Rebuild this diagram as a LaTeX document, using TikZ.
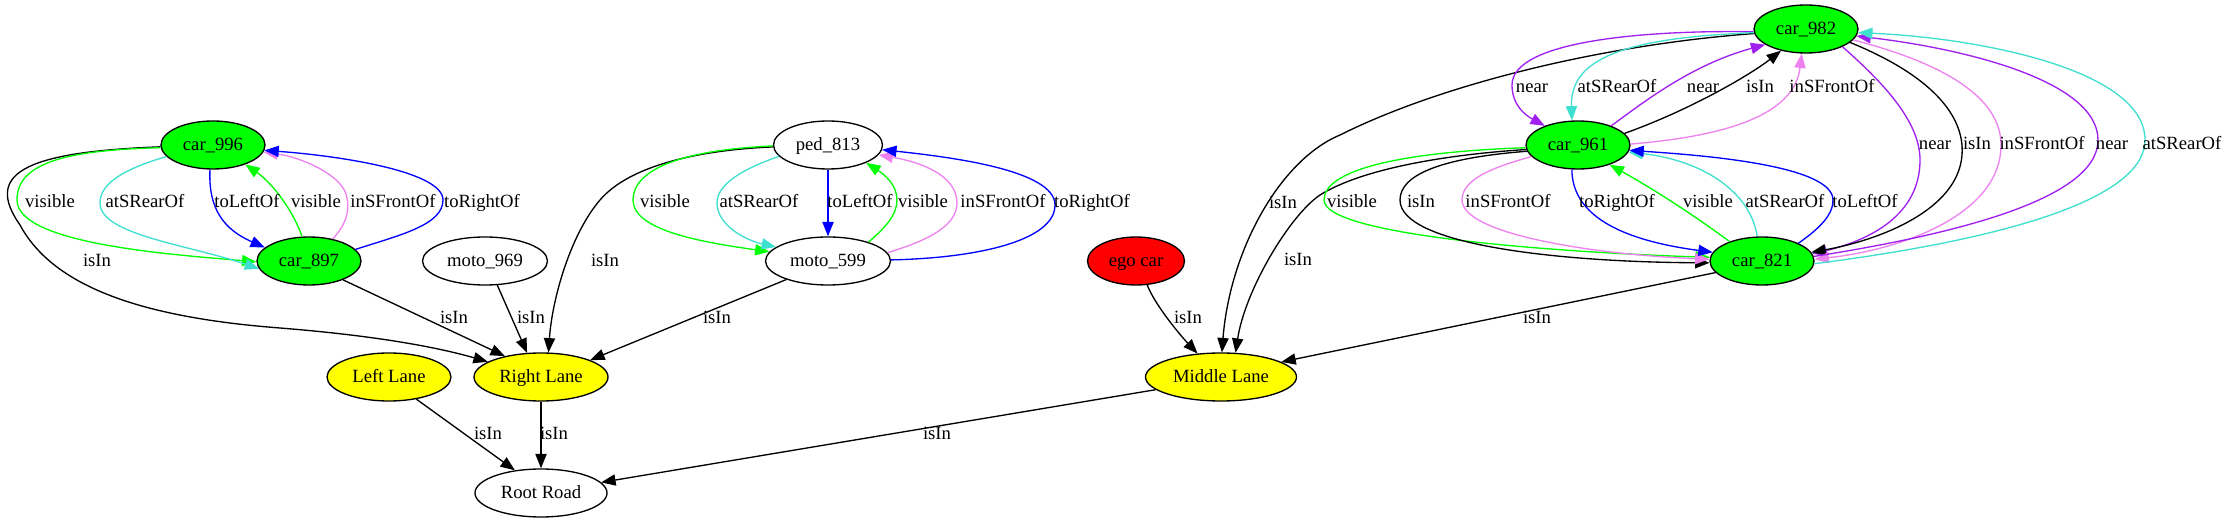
\documentclass[tikz,border=0pt]{standalone}
\usepackage{fontspec}
\setmainfont{Liberation Serif}
\usetikzlibrary{shapes.geometric,arrows.meta}
\definecolor{gvgreen}{HTML}{00FF00}
\definecolor{gvturq}{HTML}{40E0D0}
\definecolor{gvviolet}{HTML}{EE82EE}
\definecolor{gvpurple}{HTML}{A020F0}
\definecolor{gvblue}{HTML}{0000FF}
\definecolor{gvyellow}{HTML}{FFFF00}
\definecolor{gvred}{HTML}{FF0000}
\begin{document}
\begin{tikzpicture}[x=0.75pt,y=-0.75pt,
  gvnode/.style={ellipse,draw=black,line width=1pt,inner sep=0pt,minimum height=36pt,
    font=\fontsize{14}{16}\selectfont,text height=8pt,text depth=0pt},
  carnode/.style={gvnode,fill=gvgreen,minimum width=78pt},
  whitenode/.style={gvnode,fill=white},
  lanenode/.style={gvnode,fill=gvyellow},
  lbl/.style={inner sep=0pt,font=\fontsize{14}{16}\selectfont,text height=9pt,text depth=0pt},
  edg/.style={line width=1pt,line join=miter,-{Triangle[length=10.8pt,width=8.4pt]}},
]
\useasboundingbox (0,0) rectangle (2227,523);
\fill[white] (0,0) rectangle (2227,523);

% nodes
\node[carnode] (car996) at (213,145) {car\_996};
\node[carnode] (car897) at (309,261) {car\_897};
\node[whitenode,minimum width=93.75pt] (moto969) at (485,261) {moto\_969};
\node[whitenode,minimum width=81.75pt] (ped813) at (828,145) {ped\_813};
\node[whitenode,minimum width=93.75pt] (moto599) at (828,261) {moto\_599};
\node[lanenode,minimum width=93pt] (leftlane) at (389,377) {Left Lane};
\node[lanenode,minimum width=100.5pt] (rightlane) at (541,377) {Right Lane};
\node[whitenode,minimum width=99pt] (rootroad) at (541,493) {Root Road};
\node[gvnode,fill=gvred,minimum width=72.75pt] (egocar) at (1136,261) {ego car};
\node[lanenode,minimum width=113.25pt] (middlelane) at (1221,377) {Middle Lane};
\node[carnode] (car982) at (1806,29) {car\_982};
\node[carnode] (car961) at (1578,145) {car\_961};
\node[carnode] (car821) at (1762,261) {car\_821};

% left group
\draw[edg] (car996.182) .. controls (20,152) and (-15,175) .. (20,225) .. controls (55,290) and (150,318) .. (280,328) .. controls (380,336) and (440,348) .. (rightlane.164.5);
\draw[edg,gvgreen] (car996.183) .. controls (60,150) and (17,165) .. (17,200) .. controls (17,245) and (180,255) .. (car897.181);
\draw[edg,gvturq] (car996.194.6) .. controls (120,170) and (100,185) .. (100,203) .. controls (100,235) and (190,245) .. (car897.189);
\draw[edg,gvblue] (car996.263) .. controls (208,210) and (225,230) .. (car897.163.5);
\draw[edg,gvgreen] (car897.106) .. controls (295,215) and (275,185) .. (car996.329.5);
\draw[edg,gvviolet] (car897.43.8) .. controls (345,226) and (350,212) .. (347,198) .. controls (344,175) and (300,157) .. (car996.352);
\draw[edg,gvblue] (car897.14.6) .. controls (400,235) and (443,225) .. (443,200) .. controls (443,170) and (330,155) .. (car996.354.5);
\draw[edg] (car897.331) -- (rightlane.150.4);
\draw[edg] (moto969.297) -- (rightlane.120.8);
\draw[edg] (ped813.182) .. controls (700,150) and (630,165) .. (600,200) .. controls (570,235) and (552,300) .. (rightlane.73.4);
\draw[edg,gvgreen] (ped813.181) .. controls (680,150) and (633,170) .. (633,200) .. controls (633,230) and (700,242) .. (moto599.171.5);
\draw[edg,gvturq] (ped813.193.5) .. controls (740,170) and (717,185) .. (717,203) .. controls (717,225) and (745,240) .. (moto599.165.7);
\draw[edg,gvblue] (ped813.south) -- (moto599.north);
\draw[edg,gvgreen] (moto599.25.4) .. controls (885,228) and (897,215) .. (897,200) .. controls (897,185) and (885,175) .. (ped813.335);
\draw[edg,gvviolet] (moto599.8.5) .. controls (930,240) and (957,225) .. (957,203) .. controls (957,175) and (920,162) .. (ped813.349);
\draw[edg,gvblue] (moto599.1) .. controls (980,258) and (1055,240) .. (1055,205) .. controls (1055,170) and (950,157) .. (ped813.355);
\draw[edg] (moto599.204.3) -- (rightlane.19);
\draw[edg] (leftlane.321.2) -- (rootroad.139.8);
\draw[edg] (rightlane.south) -- (rootroad.north);
\draw[edg] (middlelane.191) -- (rootroad.10.6);
\draw[edg] (egocar.295) .. controls (1155,305) and (1180,335) .. (middlelane.135);

% right group to middle lane
\draw[edg] (car982.185) .. controls (1600,45) and (1440,85) .. (1340,135) .. controls (1280,160) and (1230,250) .. (middlelane.88);
\draw[edg] (car961.185) .. controls (1440,155) and (1360,170) .. (1320,195) .. controls (1290,215) and (1245,290) .. (middlelane.59.7);
\draw[edg] (car821.194) -- (middlelane.14.2);

% car982 <-> car961
\draw[edg,gvpurple] (car982.183) .. controls (1650,30) and (1512,40) .. (1512,85) .. controls (1512,105) and (1525,115) .. (car961.150);
\draw[edg,gvturq] (car982.184) .. controls (1620,38) and (1570,60) .. (car961.104);
\draw[edg,gvpurple] (car961.30.7) .. controls (1640,105) and (1690,65) .. (car982.201);
\draw[edg] (car961.14.3) .. controls (1690,110) and (1750,75) .. (car982.221);
\draw[edg,gvviolet] (car961.1) .. controls (1740,135) and (1795,110) .. (car982.260.5);

% car961 <-> car821
\draw[edg,gvgreen] (car961.183) .. controls (1400,152) and (1324,170) .. (1324,200) .. controls (1324,235) and (1550,252) .. (car821.176.6);
\draw[edg] (car961.187.7) .. controls (1440,158) and (1400,175) .. (1400,200) .. controls (1400,245) and (1560,262) .. (car821.182);
\draw[edg,gvviolet] (car961.194) .. controls (1490,168) and (1462,180) .. (1462,200) .. controls (1462,235) and (1600,255) .. (car821.178);
\draw[edg,gvblue] (car961.256) .. controls (1572,215) and (1620,240) .. (car821.170.7);
\draw[edg,gvgreen] (car821.149) .. controls (1688,211) and (1648,186) .. (car961.328);
\draw[edg,gvturq] (car821.101.8) .. controls (1750,190) and (1700,160) .. (car961.352.6);
\draw[edg,gvblue] (car821.26.6) .. controls (1820,228) and (1833,215) .. (1833,200) .. controls (1833,165) and (1700,155) .. (car961.354.7);

% car982 <-> car821
\draw[edg,gvpurple] (car982.334) .. controls (1880,80) and (1920,120) .. (1920,160) .. controls (1920,215) and (1870,240) .. (car821.8.9);
\draw[edg] (car982.343) .. controls (1930,75) and (1965,115) .. (1962,155) .. controls (1958,210) and (1880,240) .. (car821.10.2);
\draw[edg,gvviolet] (car982.347.8) .. controls (1950,65) and (2001,100) .. (2001,145) .. controls (2001,215) and (1900,250) .. (car821.2.2);
\draw[edg,gvpurple] (car821.5) .. controls (1950,235) and (2098,200) .. (2098,140) .. controls (2098,80) and (1960,48) .. (car982.352);
\draw[edg,gvturq] (car821.357) .. controls (2000,240) and (2145,200) .. (2145,140) .. controls (2145,70) and (1980,38) .. (car982.356.7);

% labels
\node[lbl] (l01) at (97,261) {isIn};
\node[lbl] (l02) at (50,202) {visible};
\node[lbl] (l03) at (145,202) {atSRearOf};
\node[lbl] (l04) at (247,202) {toLeftOf};
\node[lbl] (l05) at (316,202) {visible};
\node[lbl] (l06) at (393,202) {inSFrontOf};
\node[lbl] (l07) at (482,202) {toRightOf};
\node[lbl] (l08) at (454,318) {isIn};
\node[lbl] (l09) at (531,318) {isIn};
\node[lbl] (l10) at (605,261) {isIn};
\node[lbl] (l11) at (665,202) {visible};
\node[lbl] (l12) at (759,202) {atSRearOf};
\node[lbl] (l13) at (860,202) {toLeftOf};
\node[lbl] (l14) at (923,202) {visible};
\node[lbl] (l15) at (1003,202) {inSFrontOf};
\node[lbl] (l16) at (1092,202) {toRightOf};
\node[lbl] (l17) at (717,318) {isIn};
\node[lbl] (l18) at (488,434) {isIn};
\node[lbl] (l19) at (554,434) {isIn};
\node[lbl] (l20) at (937,434) {isIn};
\node[lbl] (l21) at (1188,318) {isIn};
\node[lbl] (l22) at (1283,203) {isIn};
\node[lbl] (l23) at (1298,260) {isIn};
\node[lbl] (l24) at (1537,318) {isIn};
\node[lbl] (l25) at (1532,87) {near};
\node[lbl] (l26) at (1617,87) {atSRearOf};
\node[lbl] (l27) at (1703,87) {near};
\node[lbl] (l28) at (1760,87) {isIn};
\node[lbl] (l29) at (1832,87) {inSFrontOf};
\node[lbl] (l30) at (1352,202) {visible};
\node[lbl] (l31) at (1421,202) {isIn};
\node[lbl] (l32) at (1508,202) {inSFrontOf};
\node[lbl] (l33) at (1617,202) {toRightOf};
\node[lbl] (l34) at (1708,202) {visible};
\node[lbl] (l35) at (1785,202) {atSRearOf};
\node[lbl] (l36) at (1865,202) {toLeftOf};
\node[lbl] (l37) at (1935,144) {near};
\node[lbl] (l38) at (1977,144) {isIn};
\node[lbl] (l39) at (2042,144) {inSFrontOf};
\node[lbl] (l40) at (2112,144) {near};
\node[lbl] (l41) at (2182,144) {atSRearOf};
\end{tikzpicture}
\end{document}
